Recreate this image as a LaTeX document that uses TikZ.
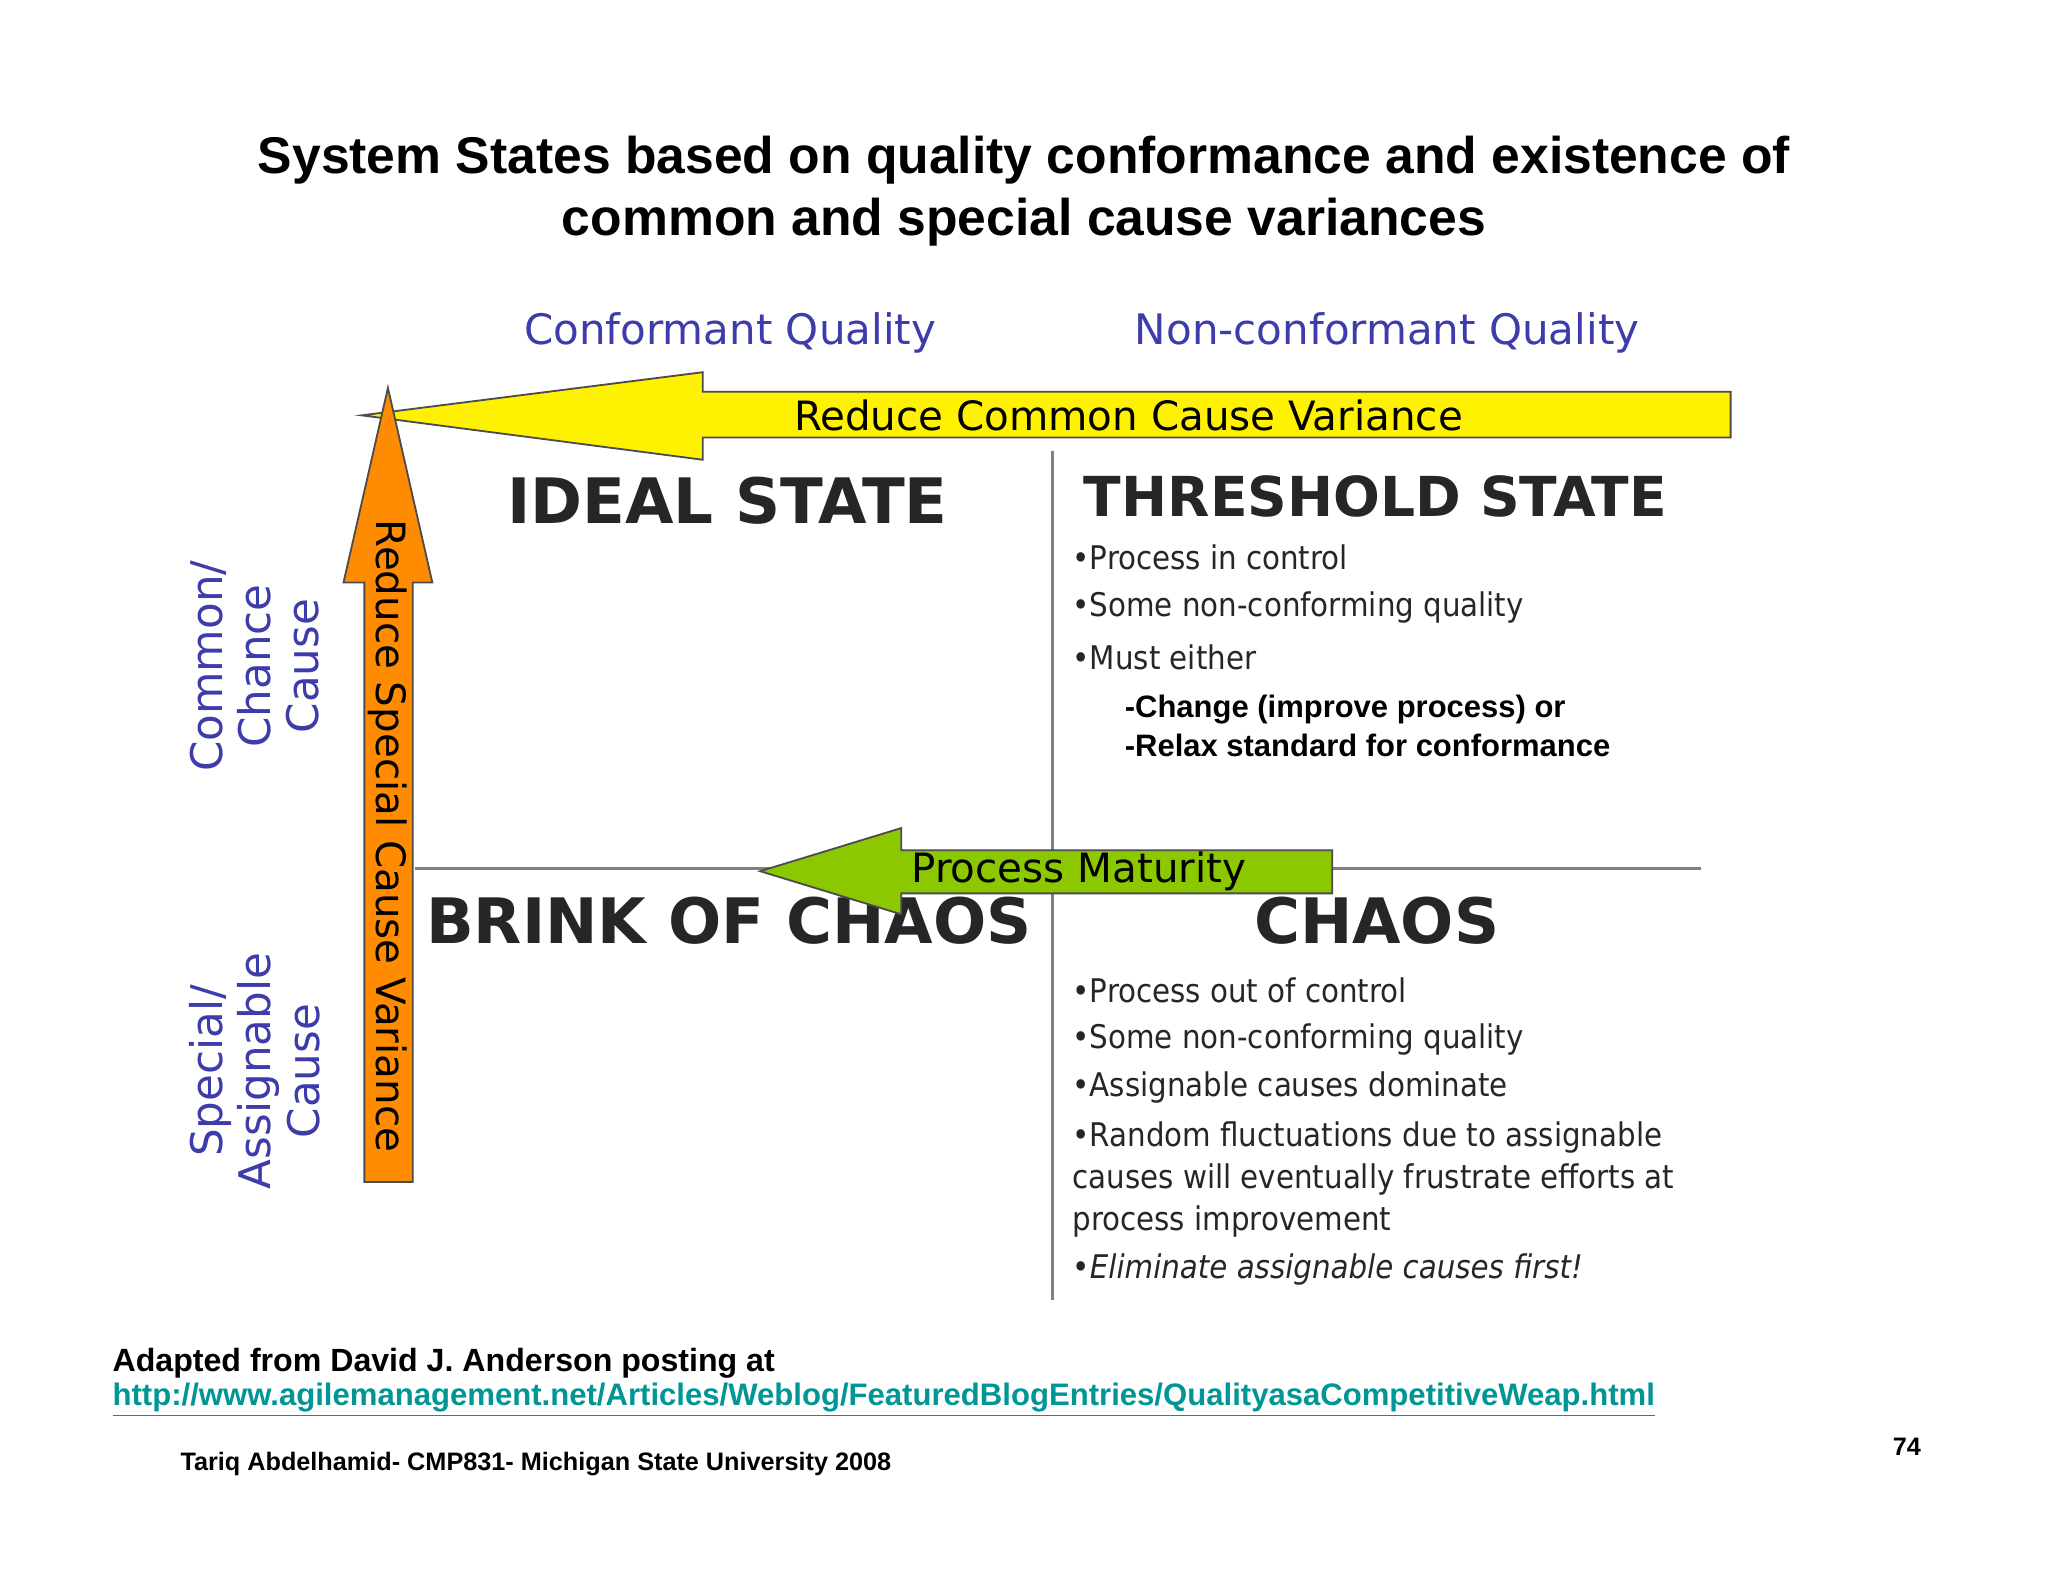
\documentclass[tikz,border=0pt]{standalone}
\usepackage{fontspec}
\setmainfont{Liberation Sans}
\newfontfamily\dv{DejaVu Sans}
\newfontfamily\dvc{DejaVu Sans Condensed}
\begin{document}
\begin{tikzpicture}[x=0.02cm,y=-0.02cm,
  blue lab/.style={text=labblue,font=\dv\fontsize{18.3}{21}\selectfont},
  bigstate/.style={font=\dv\bfseries\fontsize{27.3}{30}\selectfont,text=black!85},
  bul/.style={anchor=west,font=\dvc\fontsize{14.2}{17}\selectfont,text=black!85},
  sub/.style={anchor=west,font=\bfseries\fontsize{13.5}{16}\selectfont},
  arrtxt/.style={font=\dv\fontsize{17.6}{20}\selectfont}]
\definecolor{labblue}{RGB}{60,60,170}
\definecolor{teal}{RGB}{0,150,150}
\definecolor{lgreen}{RGB}{140,200,0}
\useasboundingbox (0,0) rectangle (1568,1212);
\fill[white] (0,0) rectangle (1568,1212);
\node[font=\bfseries\fontsize{22.5}{27}\selectfont,align=center] (title) at (784,146) {System States based on quality conformance and existence of\\common and special cause variances};
\node[blue lab] (cq) at (559,255) {Conformant Quality};
\node[blue lab] (nq) at (1062,255) {Non-conformant Quality};
% lines
\coordinate (vt) at (806,345); \coordinate (vb) at (806,995);
\coordinate (hl) at (318,665); \coordinate (hr) at (1302,665);
\draw[gray,line width=1.5pt] (vt) -- (vb);
\draw[gray,line width=1.5pt] (hl) -- (hr);
% yellow arrow
\draw[fill=yellow,draw=gray!60!black,line width=0.8pt] (277,318) -- (538,285) -- (538,300) -- (1325,300) -- (1325,335) -- (538,335) -- (538,352) -- cycle;
\node[arrtxt] (ya) at (864,318) {Reduce Common Cause Variance};
% orange arrow
\draw[fill=orange!90!yellow,draw=gray!60!black,line width=0.8pt] (297,297) -- (331,446) -- (316,446) -- (316,905) -- (279,905) -- (279,446) -- (263,446) -- cycle;
\node[arrtxt,rotate=-90] (oa) at (297,640) {Reduce Special Cause Variance};
% left labels
\node[blue lab,rotate=90,align=center,font=\dv\fontsize{19}{21}\selectfont] (cc) at (195,510) {Common/\\Chance\\Cause};
\node[blue lab,rotate=90,align=center,font=\dv\fontsize{19}{21}\selectfont] (sa) at (195,820) {Special/\\Assignable\\Cause};
% states
\node[bigstate] (ideal) at (557,383) {IDEAL STATE};
\node[bigstate,font=\dv\bfseries\fontsize{24}{28}\selectfont] (thr) at (1053,380) {THRESHOLD STATE};
\node[bigstate] (brink) at (558,705) {BRINK OF CHAOS};
\node[bigstate] (chaos) at (1054,705) {CHAOS};
% green arrow
\draw[fill=lgreen,draw=gray!60!black,line width=0.8pt] (582,667) -- (690,634) -- (690,651) -- (1020,651) -- (1020,684) -- (690,684) -- (690,700) -- cycle;
\node[arrtxt] (pm) at (826,667) {Process Maturity};
% threshold bullets
\node[bul] (t1) at (815,427) {•Process in control};
\node[bul] (t2) at (815,465) {•Some non-conforming quality};
\node[bul] (t3) at (815,503) {•Must either};
\node[sub] (t4) at (855,543) {-Change (improve process) or};
\node[sub] (t5) at (855,571) {-Relax standard for conformance};
% chaos bullets
\node[bul] (c1) at (815,758) {•Process out of control};
\node[bul] (c2) at (815,796) {•Some non-conforming quality};
\node[bul] (c3) at (815,833) {•Assignable causes dominate};
\node[bul] (c4) at (815,871) {•Random fluctuations due to assignable};
\node[bul] (c5) at (815,903) {causes will eventually frustrate efforts at};
\node[bul] (c6) at (815,935) {process improvement};
\node[bul] (c7) at (815,972) {•\itshape Eliminate assignable causes first!};
% footer
\node[anchor=west,font=\bfseries\fontsize{14}{17}\selectfont] (f1) at (80,1044) {Adapted from David J. Anderson posting at};
\node[anchor=west,font=\bfseries\fontsize{13.55}{17}\selectfont,text=teal] (f2) at (80,1072) {\underline{http://www.agilemanagement.net/Articles/Weblog/FeaturedBlogEntries/QualityasaCompetitiveWeap.html}};
\node[anchor=west,font=\bfseries\fontsize{11}{13}\selectfont] (f3) at (132,1121) {Tariq Abdelhamid- CMP831- Michigan State University 2008};
\node[font=\bfseries\fontsize{11}{13}\selectfont] (pg) at (1460,1108) {74};
\end{tikzpicture}
\end{document}
